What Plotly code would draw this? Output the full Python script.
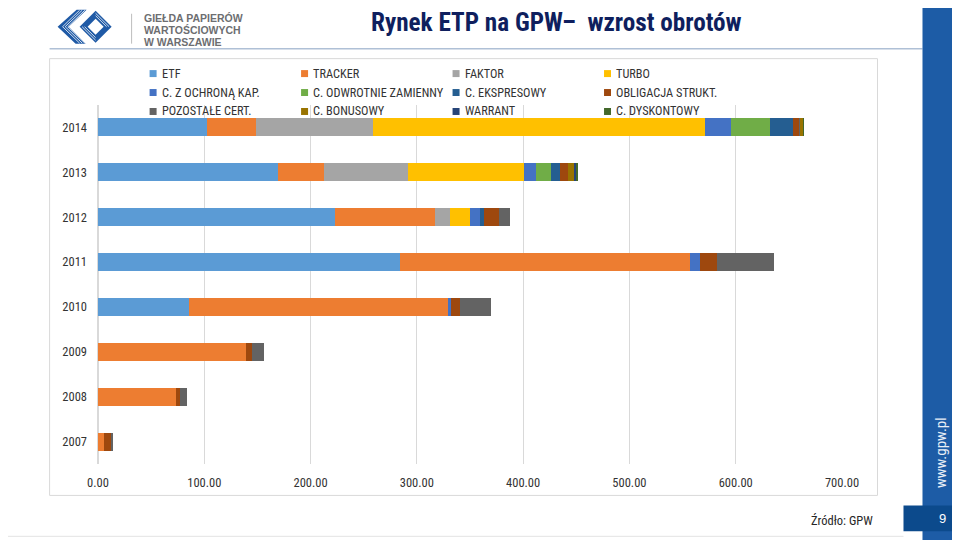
import plotly.graph_objects as go

# ---------------- data ----------------
years = ["2007", "2008", "2009", "2010", "2011", "2012", "2013", "2014"]
series_names = ["ETF", "TRACKER", "FAKTOR", "TURBO",
                "C. Z OCHRONĄ KAP.", "C. ODWROTNIE ZAMIENNY", "C. EKSPRESOWY", "OBLIGACJA STRUKT.",
                "POZOSTAŁE CERT.", "C. BONUSOWY", "WARRANT", "C. DYSKONTOWY"]
etf        = [0, 0, 0, 85.5, 284.3, 223.0, 169.0, 103.0]
tracker    = [5.6, 73.0, 139.5, 243.7, 272.7, 94.0, 44.0, 46.0]
faktor     = [0, 0, 0, 0, 0, 14.0, 79.0, 110.0]
turbo      = [0, 0, 0, 0, 0, 18.6, 108.7, 312.0]
c_ochrona  = [0, 0, 0, 3.2, 9.6, 10.0, 11.3, 25.0]
c_odwrot   = [0, 0, 0, 0, 0, 0, 14.0, 36.0]
c_ekspres  = [0, 0, 0, 0, 0, 4.0, 9.0, 22.0]
obligacja  = [6.9, 3.8, 5.3, 8.6, 15.7, 14.1, 7.0, 6.0]
pozostale  = [1.5, 6.8, 11.2, 28.6, 53.7, 9.9, 0, 0.5]
c_bonus    = [0, 0, 0, 0, 0, 0, 6.4, 3.0]
warrant    = [0, 0, 0, 0, 0, 0, 1.6, 0.3]
c_dyskont  = [0, 0, 0, 0, 0, 0, 2.0, 0.3]
series_values = [etf, tracker, faktor, turbo, c_ochrona, c_odwrot, c_ekspres, obligacja,
                 pozostale, c_bonus, warrant, c_dyskont]
colors = ["#5B9BD5", "#ED7D31", "#A5A5A5", "#FFC000", "#4472C4", "#70AD47", "#255E91", "#9E480E",
          "#636363", "#997300", "#264478", "#43682B"]
x_ticks = [0, 100, 200, 300, 400, 500, 600, 700]
x_tick_labels = ["0.00", "100.00", "200.00", "300.00", "400.00", "500.00", "600.00", "700.00"]

title_text = "Rynek ETP na GPW–  wzrost obrotów"
logo_lines = ["GIEŁDA PAPIERÓW", "WARTOŚCIOWYCH", "W WARSZAWIE"]
source_text = "Źródło: GPW"

# ---------------- layout geometry ----------------
OFF = 8  # the page body has an 8px margin; all target pixel positions are shifted by it
W, H = 960 - OFF, 540 - OFF
PL, PR, PT, PB = 98.4, 842.5, 104.5, 464.5   # plot area in target-page pixels
ML, MR, MT, MB = PL - OFF, 960 - PR, PT - OFF, 540 - PB
PW, PH = W - ML - MR, H - MT - MB
NARROW = "Roboto Condensed, DejaVu Sans Condensed, Liberation Sans Narrow, Arial Narrow, Liberation Sans, sans-serif"
TXT = "#333333"


def px(x):
    return (x - OFF - ML) / PW


def py(y):
    return (H - MB - (y - OFF)) / PH


fig = go.Figure()
for name, vals, col in zip(series_names, series_values, colors):
    fig.add_trace(go.Bar(y=years, x=vals, name=name, orientation="h",
                         marker=dict(color=col, line=dict(width=0)), showlegend=False))

shapes = []
annotations = []

# chart frame
shapes.append(dict(type="rect", xref="paper", yref="paper", x0=px(50), x1=px(878), y0=py(496), y1=py(58),
                   line=dict(color="#D9D9D9", width=1), layer="below"))
# header line
shapes.append(dict(type="line", xref="paper", yref="paper", x0=px(50), x1=px(923), y0=py(48), y1=py(48),
                   line=dict(color="#AFC0D6", width=1.5)))
# bottom light line
shapes.append(dict(type="line", xref="paper", yref="paper", x0=px(8), x1=px(904), y0=py(537), y1=py(537),
                   line=dict(color="#E3E3E3", width=1)))
# right banner
shapes.append(dict(type="rect", xref="paper", yref="paper", x0=px(923), x1=px(962), y0=py(542), y1=py(6),
                   fillcolor="#1D5CA6", line=dict(width=0)))
# page number box
shapes.append(dict(type="rect", xref="paper", yref="paper", x0=px(904), x1=px(962), y0=py(532), y1=py(506),
                   fillcolor="#0C4A8C", line=dict(width=0)))


def poly(points, fill):
    d = "M " + " L ".join(f"{px(a):.5f},{py(b):.5f}" for a, b in points) + " Z"
    return dict(type="path", xref="paper", yref="paper", path=d, fillcolor=fill, line=dict(width=0))


# logo (stylised)
LB = "#1F5AA6"
shapes.append(poly([(77, 9), (87, 9), (69, 26), (86, 43), (76, 43), (58, 26)], LB))
shapes.append(poly([(96, 10), (112, 26), (96, 42), (80, 26)], LB))
shapes.append(poly([(96, 18), (104, 26), (96, 34), (88, 26)], "white"))
for k in range(3):
    o = 2.6 * k
    shapes.append(dict(type="line", xref="paper", yref="paper",
                       x0=px(80 + o), y0=py(9.5), x1=px(63 + o), y1=py(26),
                       line=dict(color="white", width=0.8)))
    shapes.append(dict(type="line", xref="paper", yref="paper",
                       x0=px(63 + o), y0=py(26), x1=px(80 + o), y1=py(42.5),
                       line=dict(color="white", width=0.8)))
for k in range(2):
    o = 2.5 * (k + 1)
    shapes.append(dict(type="line", xref="paper", yref="paper",
                       x0=px(96), y0=py(10 + o), x1=px(112 - o), y1=py(26),
                       line=dict(color="white", width=0.8)))
    shapes.append(dict(type="line", xref="paper", yref="paper",
                       x0=px(80 + o), y0=py(26), x1=px(96), y1=py(42 - o),
                       line=dict(color="white", width=0.8)))
# logo separator
shapes.append(dict(type="line", xref="paper", yref="paper", x0=px(132), x1=px(132), y0=py(13), y1=py(43),
                   line=dict(color="#BDBDBD", width=1)))
for i, t in enumerate(logo_lines):
    annotations.append(dict(text=f"<b>{t}</b>", xref="paper", yref="paper", x=px(142), y=py(17 + 12.3 * i),
                            xanchor="left", yanchor="middle", showarrow=False,
                            font=dict(family="Liberation Sans, Arial, sans-serif", size=10.5, color="#6D6E71")))

# title
annotations.append(dict(text=f"<b>{title_text}</b>", xref="paper", yref="paper", x=px(557), y=py(22),
                        xanchor="center", yanchor="middle", showarrow=False,
                        font=dict(family=NARROW, size=25.2, color="#0F1F5E")))

# manual legend (4 columns x 3 rows)
col_x = [150, 301.5, 453, 604.5]
row_y = [73, 92, 111]
for i, (name, col) in enumerate(zip(series_names, colors)):
    r, c = divmod(i, 4)
    x0, yc = col_x[c], row_y[r]
    shapes.append(dict(type="rect", xref="paper", yref="paper", x0=px(x0), x1=px(x0 + 7),
                       y0=py(yc + 3.5), y1=py(yc - 3.5), fillcolor=col, line=dict(width=0)))
    annotations.append(dict(text=name, xref="paper", yref="paper", x=px(x0 + 10), y=py(yc),
                            xanchor="left", yanchor="middle", showarrow=False,
                            font=dict(family=NARROW, size=12.3, color=TXT)))

# source and page number / website
annotations.append(dict(text=source_text, xref="paper", yref="paper", x=px(876), y=py(521),
                        xanchor="right", yanchor="middle", showarrow=False,
                        font=dict(family=NARROW, size=12.5, color="#262626")))
annotations.append(dict(text="9", xref="paper", yref="paper", x=px(943), y=py(519),
                        xanchor="center", yanchor="middle", showarrow=False,
                        font=dict(family="Liberation Sans, sans-serif", size=13, color="white")))
annotations.append(dict(text="www.gpw.pl", xref="paper", yref="paper", x=px(941), y=py(453),
                        xanchor="center", yanchor="middle", showarrow=False, textangle=-90,
                        font=dict(family=NARROW, size=15, color="#E8EEF6")))

fig.update_layout(
    width=W, height=H, autosize=False,
    barmode="stack", bargap=0.6,
    plot_bgcolor="white", paper_bgcolor="white",
    margin=dict(l=ML, r=MR, t=MT, b=MB, pad=0),
    showlegend=False,
    shapes=shapes, annotations=annotations,
    xaxis=dict(range=[0, 700], tickvals=x_ticks, ticktext=x_tick_labels,
               showgrid=True, gridcolor="#D9D9D9", gridwidth=1,
               zeroline=True, zerolinecolor="#D9D9D9", showline=False, ticks="",
               ticklabelstandoff=9,
               tickfont=dict(family=NARROW, size=12.5, color=TXT), fixedrange=True),
    yaxis=dict(type="category", categoryorder="array", categoryarray=years,
               showgrid=False, zeroline=False, showline=False, ticks="",
               ticklabelstandoff=10,
               tickfont=dict(family=NARROW, size=12.5, color=TXT), fixedrange=True),
    font=dict(family=NARROW),
)

fig.write_html("out.html")
